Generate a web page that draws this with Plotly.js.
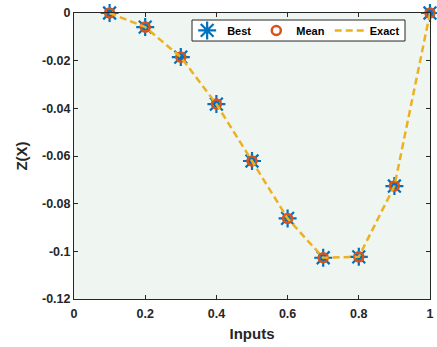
<!DOCTYPE html>
<html>
<head>
<meta charset="utf-8">
<script src="https://cdn.plot.ly/plotly-3.0.1.min.js"></script>
<style>html,body{margin:0;padding:0;background:#fff;}#chart{width:437px;height:347px;}</style>
</head>
<body>
<div id="chart"></div>
<script>
const inputs = [0.1, 0.2, 0.3, 0.4, 0.5, 0.6, 0.7, 0.8, 0.9, 1.0];
const bestZ  = [0, -0.0059, -0.0185, -0.0382, -0.0621, -0.0862, -0.1027, -0.1023, -0.0726, 0];
const meanZ  = [0, -0.0059, -0.0185, -0.0382, -0.0621, -0.0862, -0.1027, -0.1023, -0.0726, 0];
const exactZ = [0, -0.0059, -0.0185, -0.0382, -0.0621, -0.0862, -0.1027, -0.1023, -0.0726, 0];
const xTicks = [0, 0.2, 0.4, 0.6, 0.8, 1];
const xTickText = ["0", "0.2", "0.4", "0.6", "0.8", "1"];
const yTicks = [0, -0.02, -0.04, -0.06, -0.08, -0.1, -0.12];
const yTickText = ["0", "-0.02", "-0.04", "-0.06", "-0.08", "-0.1", "-0.12"];

const font = "Liberation Sans, Arial, sans-serif";
const traces = [
  {x: inputs, y: bestZ, name: "Best", mode: "markers", type: "scatter", cliponaxis: false,
   marker: {symbol: "asterisk-open", size: 15, color: "#0072BD", line: {color: "#0072BD", width: 2.2}}},
  {x: inputs, y: meanZ, name: "Mean", mode: "markers", type: "scatter", cliponaxis: false,
   marker: {symbol: "circle-open", size: 9, color: "#D95319", line: {color: "#D95319", width: 2.5}}},
  {x: inputs, y: exactZ, name: "Exact", mode: "lines", type: "scatter", cliponaxis: false,
   line: {color: "#EDB120", width: 2.5, dash: "7px,4px"}}
];
const axisCommon = {
  showgrid: false, zeroline: false, showline: true, linecolor: "#262626", linewidth: 1,
  mirror: "ticks", ticks: "inside", ticklen: 4, tickcolor: "#262626",
  tickfont: {family: font, size: 12.5, color: "#262626", weight: "bold"}
};
const layout = {
  width: 437, height: 347,
  margin: {l: 74, r: 7, t: 13, b: 48},
  paper_bgcolor: "#ffffff", plot_bgcolor: "#EFF5F1",
  showlegend: true,
  legend: {orientation: "h", x: 0.624, xanchor: "center", y: 0.939, yanchor: "middle",
    bgcolor: "rgba(0,0,0,0)", borderwidth: 0,
    font: {family: font, size: 11, color: "#000", weight: "bold"}, itemwidth: 30, traceorder: "normal"},
  shapes: [{type: "rect", xref: "paper", yref: "paper", x0: 0.3315, x1: 0.9298, y0: 0.902, y1: 0.9755,
    fillcolor: "#ffffff", line: {color: "#262626", width: 1}, layer: "above"}],
  xaxis: Object.assign({}, axisCommon, {range: [0, 1], tickmode: "array", tickvals: xTicks, ticktext: xTickText,
    ticklabelstandoff: 3,
    title: {text: "Inputs", font: {family: font, size: 15, color: "#262626", weight: "bold"}, standoff: 8}}),
  yaxis: Object.assign({}, axisCommon, {range: [-0.12, 0], tickmode: "array", tickvals: yTicks, ticktext: yTickText,
    title: {text: "Z(X)", font: {family: font, size: 15, color: "#262626", weight: "bold"}, standoff: 10}})
};
Plotly.newPlot("chart", traces, layout, {displayModeBar: false, staticPlot: true});
</script>
</body>
</html>
